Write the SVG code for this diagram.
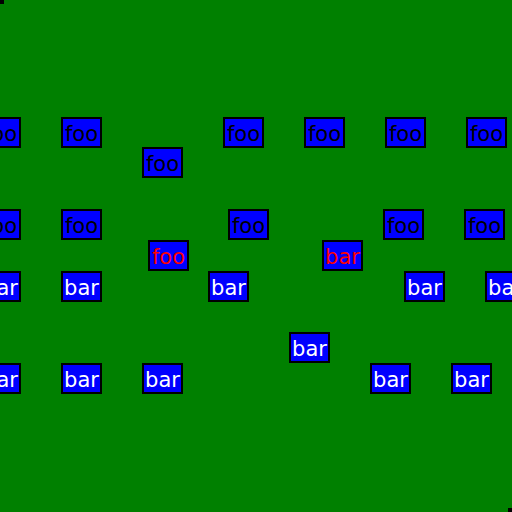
<svg xmlns="http://www.w3.org/2000/svg" width="512" height="512" viewBox="0 0 512 512">
<style>
.b{fill:#0000ff;stroke:#000;stroke-width:2}
.t{font-family:"DejaVu Sans",sans-serif;font-size:21px;text-anchor:middle}
.k{fill:#000}.w{fill:#fff}.r{fill:#ff0000}
</style>
<defs>
<rect id="box" class="b" x="1" y="1" width="39" height="29"/>
</defs>
<rect width="512" height="512" fill="#000"/>
<rect x="4" y="0" width="508" height="508" fill="#008000"/>
<rect x="0" y="4" width="508" height="508" fill="#008000"/>
<g id="connectors"/>
<g id="n1" transform="translate(-20,117)"><use href="#box"/><text class="t k" x="20.5" y="23.5">foo</text></g>
<g id="n2" transform="translate(61,117)"><use href="#box"/><text class="t k" x="20.5" y="23.5">foo</text></g>
<g id="n3" transform="translate(142,147)"><use href="#box"/><text class="t k" x="20.5" y="23.5">foo</text></g>
<g id="n4" transform="translate(223,117)"><use href="#box"/><text class="t k" x="20.5" y="23.5">foo</text></g>
<g id="n5" transform="translate(304,117)"><use href="#box"/><text class="t k" x="20.5" y="23.5">foo</text></g>
<g id="n6" transform="translate(385,117)"><use href="#box"/><text class="t k" x="20.5" y="23.5">foo</text></g>
<g id="n7" transform="translate(466,117)"><use href="#box"/><text class="t k" x="20.5" y="23.5">foo</text></g>
<g id="n8" transform="translate(-20,209)"><use href="#box"/><text class="t k" x="20.5" y="23.5">foo</text></g>
<g id="n9" transform="translate(61,209)"><use href="#box"/><text class="t k" x="20.5" y="23.5">foo</text></g>
<g id="n10" transform="translate(228,209)"><use href="#box"/><text class="t k" x="20.5" y="23.5">foo</text></g>
<g id="n11" transform="translate(383,209)"><use href="#box"/><text class="t k" x="20.5" y="23.5">foo</text></g>
<g id="n12" transform="translate(464,209)"><use href="#box"/><text class="t k" x="20.5" y="23.5">foo</text></g>
<g id="n13" transform="translate(148,240)"><use href="#box"/><text class="t r" x="20.5" y="23.5">foo</text></g>
<g id="n14" transform="translate(322,240)"><use href="#box"/><text class="t r" x="20.5" y="23.5">bar</text></g>
<g id="n15" transform="translate(-20,271)"><use href="#box"/><text class="t w" x="20.5" y="23.5">bar</text></g>
<g id="n16" transform="translate(61,271)"><use href="#box"/><text class="t w" x="20.5" y="23.5">bar</text></g>
<g id="n17" transform="translate(208,271)"><use href="#box"/><text class="t w" x="20.5" y="23.5">bar</text></g>
<g id="n18" transform="translate(404,271)"><use href="#box"/><text class="t w" x="20.5" y="23.5">bar</text></g>
<g id="n19" transform="translate(485,271)"><use href="#box"/><text class="t w" x="20.5" y="23.5">bar</text></g>
<g id="n20" transform="translate(289,332)"><use href="#box"/><text class="t w" x="20.5" y="23.5">bar</text></g>
<g id="n21" transform="translate(-20,363)"><use href="#box"/><text class="t w" x="20.5" y="23.5">bar</text></g>
<g id="n22" transform="translate(61,363)"><use href="#box"/><text class="t w" x="20.5" y="23.5">bar</text></g>
<g id="n23" transform="translate(142,363)"><use href="#box"/><text class="t w" x="20.5" y="23.5">bar</text></g>
<g id="n24" transform="translate(370,363)"><use href="#box"/><text class="t w" x="20.5" y="23.5">bar</text></g>
<g id="n25" transform="translate(451,363)"><use href="#box"/><text class="t w" x="20.5" y="23.5">bar</text></g>
</svg>
